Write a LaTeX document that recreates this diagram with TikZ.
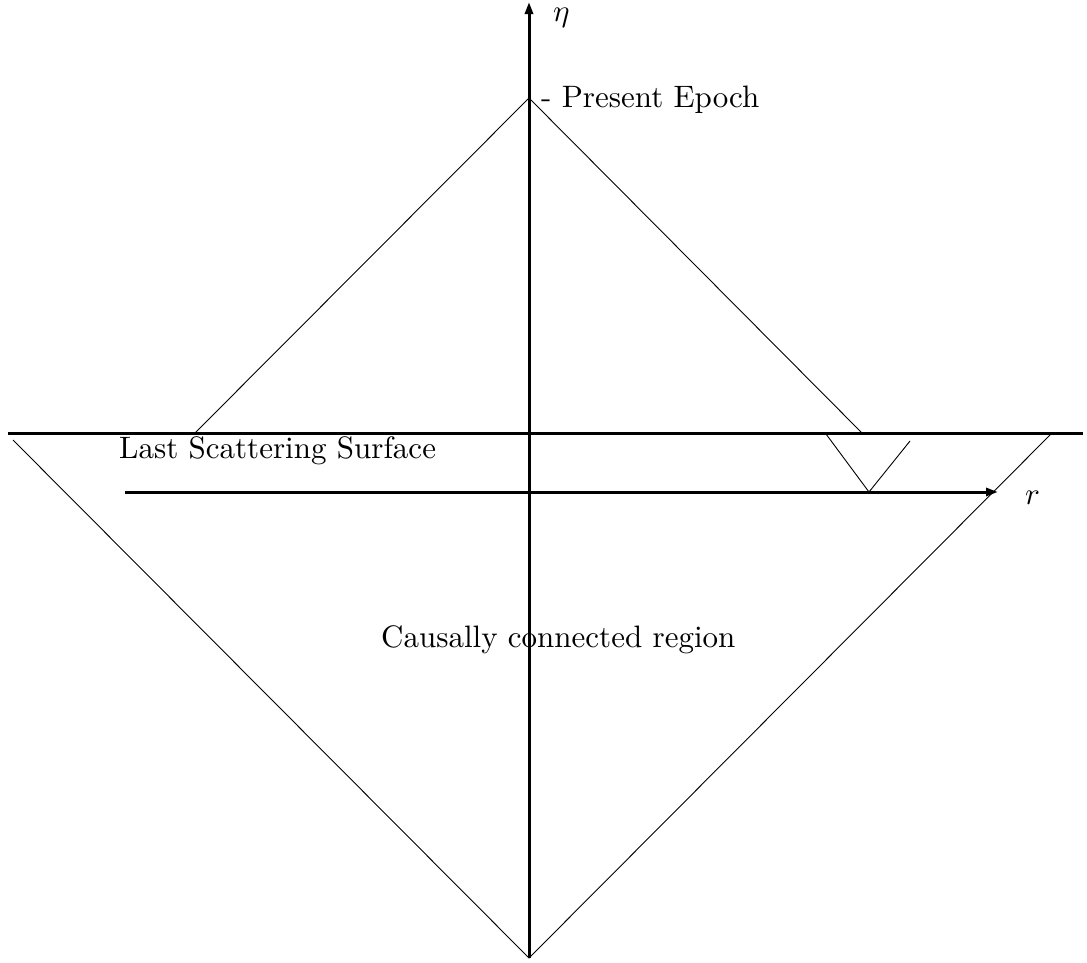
\documentclass[tikz,border=0pt]{standalone}
\usepackage{fontspec}
\setmainfont{lmroman10-regular}[Extension=.otf]
\DeclareFontShape{OML}{cmm}{m}{it}{<->cmmi10}{\skewchar\font=127}
\usetikzlibrary{arrows.meta}
\begin{document}
\begin{tikzpicture}[x=1pt,y=-1pt,
  thickline/.style={line width=3pt},
  thinline/.style={line width=0.9pt},
  lbl/.style={inner sep=0pt,anchor=base west,font=\fontsize{31}{37}\selectfont},
  tip/.style={-{Triangle[length=12pt,width=8pt]}}]
\useasboundingbox (0,0) rectangle (1087,962);
% coordinates
\coordinate (axbot) at (529,958);
\coordinate (axtop) at (529,2);
\coordinate (apex) at (529,98);
\coordinate (ulft) at (195,433);
\coordinate (urt) at (862,433);
\coordinate (hl) at (8,433);
\coordinate (hr) at (1083,433);
\coordinate (llft) at (13,440);
\coordinate (lrt) at (1052,433);
\coordinate (rst) at (125,492);
\coordinate (ren) at (998,492);
\coordinate (va) at (826,434);
\coordinate (vb) at (869,492);
\coordinate (vc) at (910,441);
% axes
\draw[thickline,tip] (axbot) -- (axtop);
\draw[thickline] (hl) -- (hr);
\draw[thickline,tip] (rst) -- (ren);
% light cones
\draw[thinline] (ulft) -- (apex) -- (urt);
\draw[thinline] (llft) -- (axbot) -- (lrt);
\draw[thinline] (va) -- (vb) -- (vc);
% labels
\node[lbl] (eta) at (553,21) {$\eta$};
\node[lbl] (pe) at (541,107) {- Present Epoch};
\node[lbl] (lss) at (119,458) {Last Scattering Surface};
\node[lbl] (ccr) at (381,647) {Causally connected region};
\node[lbl] (r) at (1025,504) {$r$};
\end{tikzpicture}
\end{document}
